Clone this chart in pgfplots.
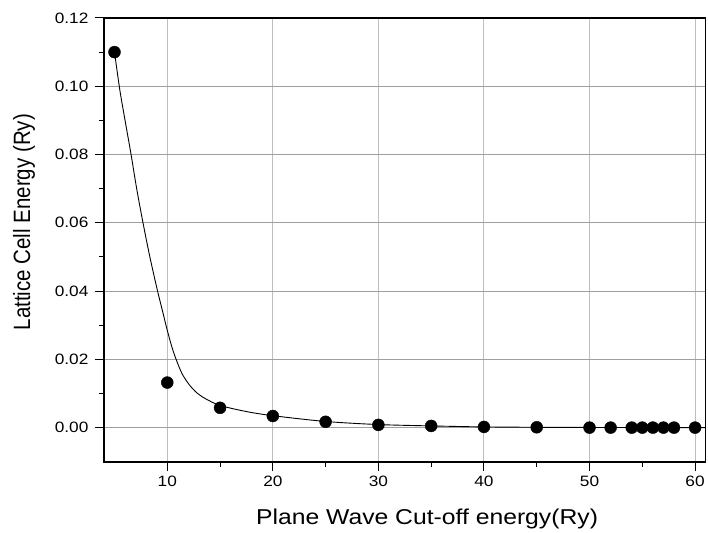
\documentclass[border=0pt]{standalone}
\usepackage{fontspec}
\setmainfont{Liberation Sans}
\newfontfamily\stretchfont{Liberation Sans}[FakeStretch=1.15]
\usepackage{pgfplots}
\pgfplotsset{compat=1.18}
\begin{document}
\begin{tikzpicture}
\begin{axis}[
  scale only axis,
  width=602pt, height=444pt,
  xmin=4, xmax=61,
  ymin=-0.01, ymax=0.12,
  xtick={10,20,30,40,50,60},
  ytick={0,0.02,0.04,0.06,0.08,0.10,0.12},
  minor x tick num=1,
  minor y tick num=1,
  tick pos=left,
  tick align=outside,
  major tick length=9pt,
  minor tick length=5pt,
  every tick/.style={black, line width=1pt},
  grid=major,
  x grid style={gray!50, line width=1pt},
  y grid style={gray!75, line width=0.8pt},
  axis line style={line width=1.6pt},
  scaled y ticks=false,
  scaled x ticks=false,
  /pgf/number format/assume math mode=true,
  yticklabel style={/pgf/number format/fixed, /pgf/number format/fixed zerofill, /pgf/number format/precision=2, font=\stretchfont\fontsize{15}{18}\selectfont, xshift=-3pt},
  xticklabel style={font=\stretchfont\fontsize{15}{18}\selectfont, yshift=-2pt},
  xlabel={Plane Wave Cut-off energy(Ry)},
  ylabel={Lattice Cell Energy (Ry)},
  xlabel style={font=\stretchfont\fontsize{21.5}{25}\selectfont, at={(axis description cs:0.537,0)}, anchor=base, yshift=-63pt},
  ylabel style={font=\fontsize{20.5}{25}\selectfont, at={(axis description cs:-0.1229,0.54)}, anchor=base, yscale=1.15},
]
\addplot[black, line width=0.9pt, smooth, tension=0.5] coordinates {
  (5,0.110) (5.5,0.099) (6,0.090) (6.57,0.080) (7.1,0.070) (7.7,0.060)
  (8.35,0.050) (9.08,0.040) (9.6,0.0335) (10,0.0285) (10.4,0.024) (10.8,0.0203)
  (11.4,0.0158) (12.1,0.0125) (12.8,0.0102) (13.66,0.0084) (15,0.0065) (17.5,0.0047)
  (20,0.0035) (25,0.0018) (30,0.0009) (35,0.0005) (40,0.0002)
  (45,0.0001) (50,0.00005) (55,0.00002) (61,0.0)
};
\addplot[only marks, mark=*, mark size=6pt, black] coordinates {
  (5,0.110) (10,0.0132) (15,0.0058) (20,0.0034) (25,0.0017) (30,0.0008)
  (35,0.0005) (40,0.0002) (45,0.0001) (50,0.0) (52,0.0) (54,0.0)
  (55,0.0) (56,0.0) (57,0.0) (58,0.0) (60,0.0)
};
\end{axis}
\path (current axis.south west) ++(-104pt,-67pt);
\path (current axis.north east) ++(2pt,18pt);
\end{tikzpicture}
\end{document}
